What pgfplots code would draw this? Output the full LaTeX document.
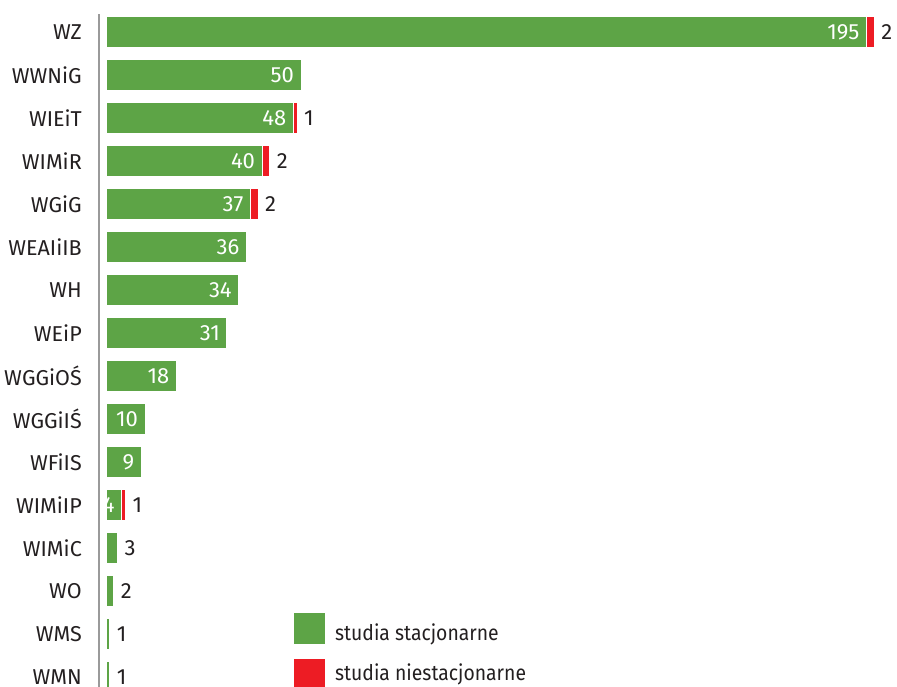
\documentclass[border=0pt]{standalone}
\usepackage{pgfplots}
\pgfplotsset{compat=1.18}
\usepackage{pgfplotstable}
\usepackage{fontspec}
\setmainfont{Fira Sans}
\newfontfamily\waska{Fira Sans}[FakeStretch=0.9]

\definecolor{zielony}{HTML}{5DA446}
\definecolor{czerwony}{HTML}{ED1C24}
\definecolor{tekst}{HTML}{231F20}
\definecolor{os}{HTML}{9A9A9A}

% y = row (0 at top), g = studia stacjonarne, r = studia niestacjonarne
\pgfplotstableread{
y g r
0 195 2
1 50 0
2 48 1
3 40 2
4 37 2
5 36 0
6 34 0
7 31 0
8 18 0
9 10 0
10 9 0
11 4 1
12 3 0
13 2 0
14 1 0
15 1 0
}\dane

% stacked nodes sit at the middle of each segment: half a value is 1.95pt
\newcommand\etykietag{%
  \pgfmathfloattoint{\pgfplotspointmeta}\let\v\pgfmathresult
  \ifnum\v>3
    \rlap{\hspace{\dimexpr 1.95pt*\v-7pt\relax}\llap{\textcolor{white}{\v}}}%
  \else
    \rlap{\hspace{\dimexpr 1.95pt*\v+7pt\relax}\v}%
  \fi}
\newcommand\etykietar{%
  \pgfmathfloattoint{\pgfplotspointmeta}\let\v\pgfmathresult
  \ifnum\v>0 \rlap{\hspace{\dimexpr 1.95pt*\v+7pt\relax}\v}\fi}

\begin{document}
\begin{tikzpicture}[x=1pt,y=1pt]
\useasboundingbox (0,0) rectangle (897,-686);
\clip (0,0) rectangle (897,-686);
\begin{axis}[
    at={(99pt,-14pt)}, anchor=north west,
    scale only axis,
    width=798.7pt, height=676pt,
    xbar stacked,
    bar width=31pt,
    y dir=reverse,
    xmin=-1.8, xmax=203,
    ymin=-0.42, ymax=15.3,
    hide x axis,
    axis y line*=left,
    y axis line style={-, draw=os, line width=2pt},
    ytick={0,...,15},
    yticklabels={WZ,WWNiG,WIEiT,WIMiR,WGiG,WEAIiIB,WH,WEiP,WGGiOŚ,WGGiIŚ,WFiIS,WIMiIP,WIMiC,WO,WMS,WMN},
    major tick length=0pt,
    yticklabel style={anchor=east, inner sep=0pt, xshift=-17pt, text=tekst,
        font=\fontsize{21.5}{26}\selectfont},
    point meta=explicit,
    every node near coord/.append style={anchor=center, inner sep=0pt,
        font=\fontsize{22}{26}\selectfont, text=tekst},
    legend style={draw=none, fill=none, inner sep=0pt,
        at={(axis description cs:0.2441,0.1139)}, anchor=north west,
        row sep=15pt, column sep=10pt,
        nodes={inner sep=0pt, text=tekst},
        font=\waska\fontsize{21.5}{26}\selectfont},
    legend cell align=left,
]
\addplot[fill=zielony, draw=white, line width=1pt,
    nodes near coords=\etykietag,
    legend image code/.code={\fill[zielony] (0pt,-11pt) rectangle (30pt,19pt);},
] table[x=g, y=y, meta=g] {\dane};
\addlegendentry{studia stacjonarne}
\addplot[fill=czerwony, draw=white, line width=1pt,
    nodes near coords=\etykietar,
    legend image code/.code={\fill[czerwony] (0pt,-17pt) rectangle (30pt,13pt);},
] table[x=r, y=y, meta=r] {\dane};
\addlegendentry{studia niestacjonarne}
\end{axis}
\end{tikzpicture}
\end{document}
